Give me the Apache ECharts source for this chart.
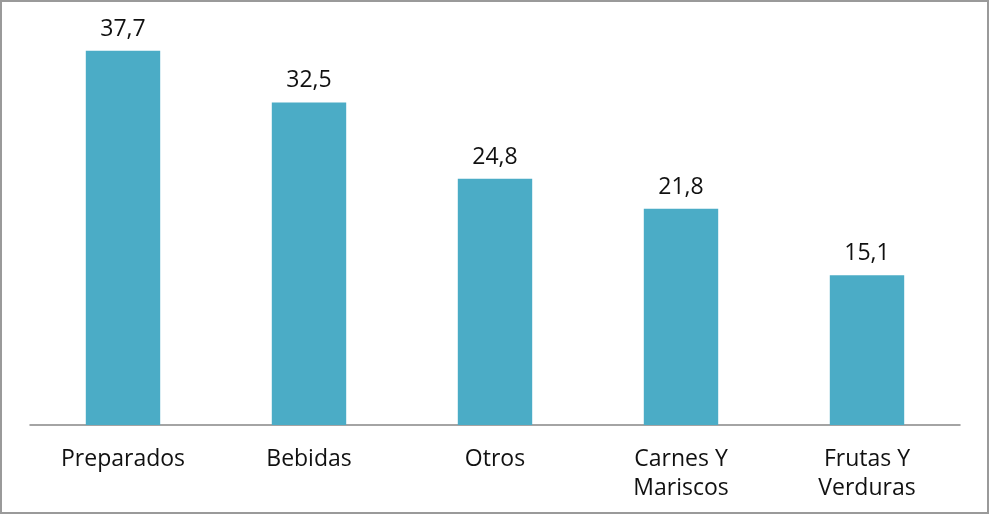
<!DOCTYPE html>
<html>
<head>
<meta charset="utf-8">
<script src="https://cdn.jsdelivr.net/npm/echarts@6/dist/echarts.min.js"></script>
<style>
  html, body { margin: 0; padding: 0; background: #fff; }
  #frame { width: 989px; height: 514px; box-sizing: border-box; border: 2px solid #9a9a9a; position: relative; }
  #chart { position: absolute; left: -2px; top: -2px; width: 989px; height: 514px; }
</style>
</head>
<body>
<div id="frame"><div id="chart"></div></div>
<script>
// Sales share by product category
const categories = ['Preparados', 'Bebidas', 'Otros', 'Carnes Y\nMariscos', 'Frutas Y\nVerduras'];
const values = [37.7, 32.5, 24.8, 21.8, 15.1];

const chart = echarts.init(document.getElementById('chart'), null, { renderer: 'canvas' });
chart.setOption({
  animation: false,
  grid: { left: 30, right: 29, top: 28, bottom: 89 },
  xAxis: {
    type: 'category',
    data: categories,
    axisLine: { lineStyle: { color: '#878787', width: 1.5 } },
    axisTick: { show: false },
    axisLabel: {
      color: '#111',
      fontFamily: 'Open Sans',
      fontSize: 23,
      lineHeight: 29,
      margin: 20,
      interval: 0
    }
  },
  yAxis: {
    type: 'value',
    min: 0,
    max: 40,
    show: false,
    splitLine: { show: false }
  },
  series: [{
    type: 'bar',
    data: values,
    barWidth: '40%',
    itemStyle: { color: '#4BACC6' },
    label: {
      show: true,
      position: 'top',
      distance: 10,
      color: '#111',
      fontFamily: 'Open Sans',
      fontSize: 23,
      formatter: p => String(p.value).replace('.', ',')
    }
  }]
});
</script>
</body>
</html>
